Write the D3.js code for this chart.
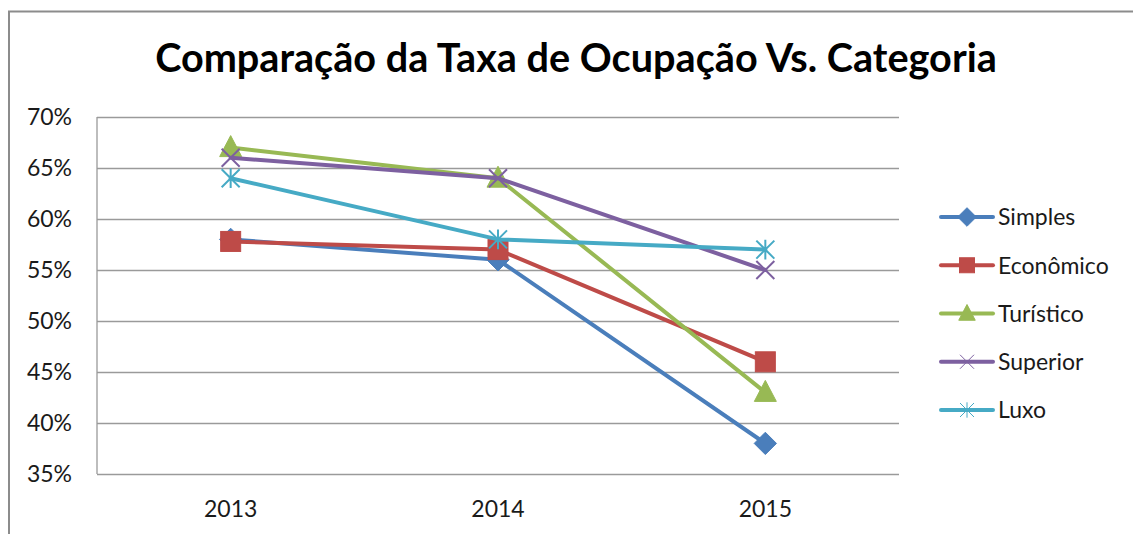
<!DOCTYPE html>
<html lang="pt">
<head>
  <meta charset="UTF-8">
  <title>Comparação da Taxa de Ocupação Vs. Categoria</title>
  <script src="https://d3js.org/d3.v7.min.js"></script>
  <style>
    body { margin: 0; background: #fff; font-family: Lato, "Open Sans", sans-serif; }
    svg { display: block; }
  </style>
</head>
<body>
<div id="chart"></div>
<script>
// chart data
const years = ["2013", "2014", "2015"];
const seriesNames = ["Simples", "Econômico", "Turístico", "Superior", "Luxo"];
const simples   = [0.58, 0.56, 0.38];
const economico = [0.578, 0.57, 0.46];
const turistico = [0.67, 0.64, 0.43];
const superior  = [0.66, 0.64, 0.55];
const luxo      = [0.64, 0.58, 0.57];
const yTicks = [0.35, 0.40, 0.45, 0.50, 0.55, 0.60, 0.65, 0.70];

const colors = ["#4a7ebb", "#be4b48", "#98b954", "#7d60a0", "#46aac5"];
const markers = ["diamond", "square", "triangle", "x", "star"];
const values = [simples, economico, turistico, superior, luxo];

const width = 1133, height = 534;
const margin = { left: 97, right: 1133 - 899, top: 117, bottom: 534 - 474 };
const labelSize = "23px";

const svg = d3.select("#chart").append("svg")
  .attr("width", width)
  .attr("height", height);

// outer frame (cut off on right and bottom)
svg.append("path")
  .attr("d", `M9,${height + 5} V11.5 H${width + 5}`)
  .attr("fill", "none")
  .attr("stroke", "#8c8c8c")
  .attr("stroke-width", 2);

// title
const title = svg.append("text")
  .attr("x", 576)
  .attr("y", 72)
  .attr("text-anchor", "middle")
  .style("font-weight", "bold")
  .style("font-size", "36px")
  .style("fill", "#000")
  .text("Comparação da Taxa de Ocupação Vs. Categoria");
// fit title to the reference width
const tw = title.node().getComputedTextLength();
title.style("font-size", (36 * 842 / tw) + "px");

const x = d3.scalePoint()
  .domain(years)
  .range([margin.left, width - margin.right])
  .padding(0.5);

const y = d3.scaleLinear()
  .domain([0.35, 0.70])
  .range([height - margin.bottom, margin.top]);

// gridlines
svg.append("g")
  .attr("transform", `translate(${margin.left},0)`)
  .call(d3.axisLeft(y).tickValues(yTicks).tickSize(-(width - margin.right - margin.left)).tickFormat(""))
  .call(g => g.select(".domain").remove())
  .call(g => g.selectAll(".tick line").attr("stroke", "#9a9a9a").attr("stroke-width", 1.3));

// vertical axis line
svg.append("line")
  .attr("x1", margin.left).attr("x2", margin.left)
  .attr("y1", y(0.70)).attr("y2", y(0.35))
  .attr("stroke", "#9a9a9a").attr("stroke-width", 1.3);

// y labels
svg.append("g")
  .selectAll("text")
  .data(yTicks)
  .join("text")
  .attr("x", 72)
  .attr("y", d => y(d))
  .attr("dy", "0.36em")
  .attr("text-anchor", "end")
  .style("font-size", labelSize)
  .style("fill", "#1a1a1a")
  .text(d => d3.format(".0%")(d));

// x labels
svg.append("g")
  .selectAll("text")
  .data(years)
  .join("text")
  .attr("x", d => x(d))
  .attr("y", 517)
  .attr("text-anchor", "middle")
  .style("font-size", labelSize)
  .style("fill", "#1a1a1a")
  .text(d => d);

function drawMarker(g, type, color, cx, cy, s, sw) {
  if (type === "diamond") {
    g.append("path")
      .attr("d", `M${cx},${cy - s * 0.62} L${cx + s * 0.62},${cy} L${cx},${cy + s * 0.62} L${cx - s * 0.62},${cy} Z`)
      .attr("fill", color).attr("stroke", color).attr("stroke-width", 1);
  } else if (type === "square") {
    g.append("rect")
      .attr("x", cx - s / 2).attr("y", cy - s / 2)
      .attr("width", s).attr("height", s)
      .attr("fill", color).attr("stroke", color).attr("stroke-width", 1);
  } else if (type === "triangle") {
    g.append("path")
      .attr("d", `M${cx},${cy - s * 0.6} L${cx + s * 0.55},${cy + s * 0.45} L${cx - s * 0.55},${cy + s * 0.45} Z`)
      .attr("fill", color).attr("stroke", color).attr("stroke-width", 1);
  } else if (type === "x") {
    const h = s / 2;
    g.append("path")
      .attr("d", `M${cx - h},${cy - h} L${cx + h},${cy + h} M${cx - h},${cy + h} L${cx + h},${cy - h}`)
      .attr("stroke", color).attr("stroke-width", sw).attr("fill", "none");
  } else if (type === "star") {
    const h = s / 2;
    g.append("path")
      .attr("d", `M${cx - h},${cy - h} L${cx + h},${cy + h} M${cx - h},${cy + h} L${cx + h},${cy - h} M${cx},${cy - h * 1.1} L${cx},${cy + h * 1.1}`)
      .attr("stroke", color).attr("stroke-width", sw).attr("fill", "none");
  }
}

const markerSize = { diamond: 18, square: 20, triangle: 20, x: 18, star: 18 };

const line = d3.line()
  .x((d, i) => x(years[i]))
  .y(d => y(d));

// draw series lines then markers
values.forEach((vals, si) => {
  const g = svg.append("g");
  g.append("path")
    .datum(vals)
    .attr("d", line)
    .attr("fill", "none")
    .attr("stroke", colors[si])
    .attr("stroke-width", 4)
    .attr("stroke-linejoin", "round")
    .attr("stroke-linecap", "round");
  vals.forEach((v, i) => {
    drawMarker(g, markers[si], colors[si], x(years[i]), y(v), markerSize[markers[si]], 2);
  });
});

// legend
const legend = svg.append("g");
const legendY = d3.scalePoint().domain(seriesNames).range([217, 410]);
seriesNames.forEach((name, si) => {
  const ly = legendY(name);
  legend.append("line")
    .attr("x1", 941).attr("x2", 993)
    .attr("y1", ly).attr("y2", ly)
    .attr("stroke", colors[si]).attr("stroke-width", 4)
    .attr("stroke-linecap", "round");
  const m = markers[si];
  const s = (m === "x" || m === "star") ? 14 : 15;
  drawMarker(legend, m, colors[si], 967, ly, s, 1);
  legend.append("text")
    .attr("x", 998)
    .attr("y", ly)
    .attr("dy", "0.36em")
    .style("font-size", labelSize)
    .style("fill", "#1a1a1a")
    .text(name);
});
</script>
</body>
</html>
